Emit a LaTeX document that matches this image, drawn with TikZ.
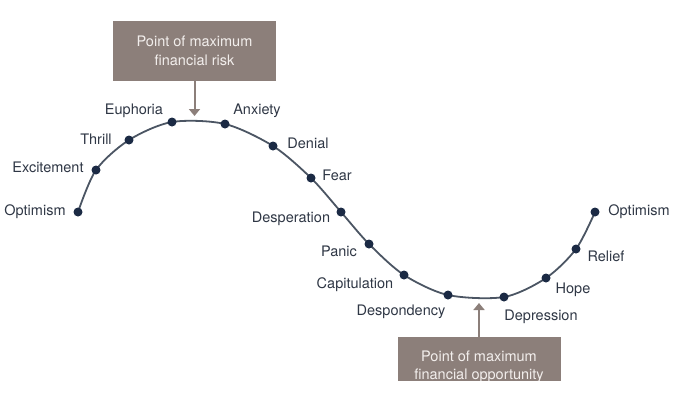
\documentclass[tikz,border=0pt]{standalone}
\usepackage{fontspec}
\setmainfont{TeX Gyre Heros}
\usetikzlibrary{arrows.meta}

\definecolor{boxgrey}{HTML}{8C7F7A}
\definecolor{boxtext}{HTML}{F2EEEC}
\definecolor{dotblue}{HTML}{1B2A44}
\definecolor{curvegrey}{HTML}{4B5563}
\definecolor{labelgrey}{HTML}{2F3745}

\begin{document}
\begin{tikzpicture}[x = 1pt, y = -1pt]
\tikzstyle{DotStyle}=[shape = circle, fill = dotblue, minimum size = 9pt,
inner sep = 0pt]
\tikzstyle{LabelStyle}=[text = labelgrey, inner sep = 0pt,
font = \fontsize{14.5}{17}\selectfont]
\tikzstyle{BoxStyle}=[fill = boxgrey, text = boxtext, align = center,
minimum width = 163pt, minimum height = 60pt,
font = \fontsize{14.5}{18.5}\selectfont]
\tikzstyle{ArrowStyle}=[draw = boxgrey, line width = 2pt,
-{Triangle[width = 11pt, length = 7pt]}]
\useasboundingbox (0,0) rectangle (700,400);
% points on the curve
\coordinate (p0) at (78,212);
\coordinate (p1) at (96,170);
\coordinate (p2) at (129,140);
\coordinate (p3) at (172,122);
\coordinate (p4) at (225,124);
\coordinate (p5) at (273,146);
\coordinate (p6) at (311,178);
\coordinate (p7) at (341,212);
\coordinate (p8) at (369,244);
\coordinate (p9) at (404,275);
\coordinate (p10) at (448,295);
\coordinate (p11) at (504,297);
\coordinate (p12) at (546,278);
\coordinate (p13) at (576,249);
\coordinate (p14) at (595,212);
\draw[curvegrey, line width = 1.8pt] plot[smooth] coordinates {(p0) (p1) (p2)
(p3) (p4) (p5) (p6) (p7) (p8) (p9) (p10) (p11) (p12) (p13) (p14)};
\foreach \i in {0,...,14}
  \node[DotStyle] (v\i) at (p\i) {};
% labels
\node[LabelStyle] (t0) at (35,212) {Optimism};
\node[LabelStyle] (t1) at (48,167) {Excitement};
\node[LabelStyle] (t2) at (96,139) {Thrill};
\node[LabelStyle] (t3) at (134,111) {Euphoria};
\node[LabelStyle] (t4) at (257,111) {Anxiety};
\node[LabelStyle] (t5) at (308,143) {Denial};
\node[LabelStyle] (t6) at (337,175) {Fear};
\node[LabelStyle] (t7) at (291,219) {Desperation};
\node[LabelStyle] (t8) at (339,251) {Panic};
\node[LabelStyle] (t9) at (355,285) {Capitulation};
\node[LabelStyle] (t10) at (401,312) {Despondency};
\node[LabelStyle] (t11) at (541,317) {Depression};
\node[LabelStyle] (t12) at (573,290) {Hope};
\node[LabelStyle] (t13) at (606,256) {Relief};
\node[LabelStyle] (t14) at (639,212) {Optimism};
% boxes
\node[BoxStyle] (risk) at (194.5,51) {Point of maximum\\financial risk};
\draw[ArrowStyle] (risk) -- (194.5,116);
\begin{scope}
\clip (0,0) rectangle (700,380);
\node[BoxStyle] (opportunity) at (479,367) {Point of maximum\\financial opportunity};
\end{scope}
\draw[ArrowStyle] (opportunity) -- (479,303);
\end{tikzpicture}
\end{document}
